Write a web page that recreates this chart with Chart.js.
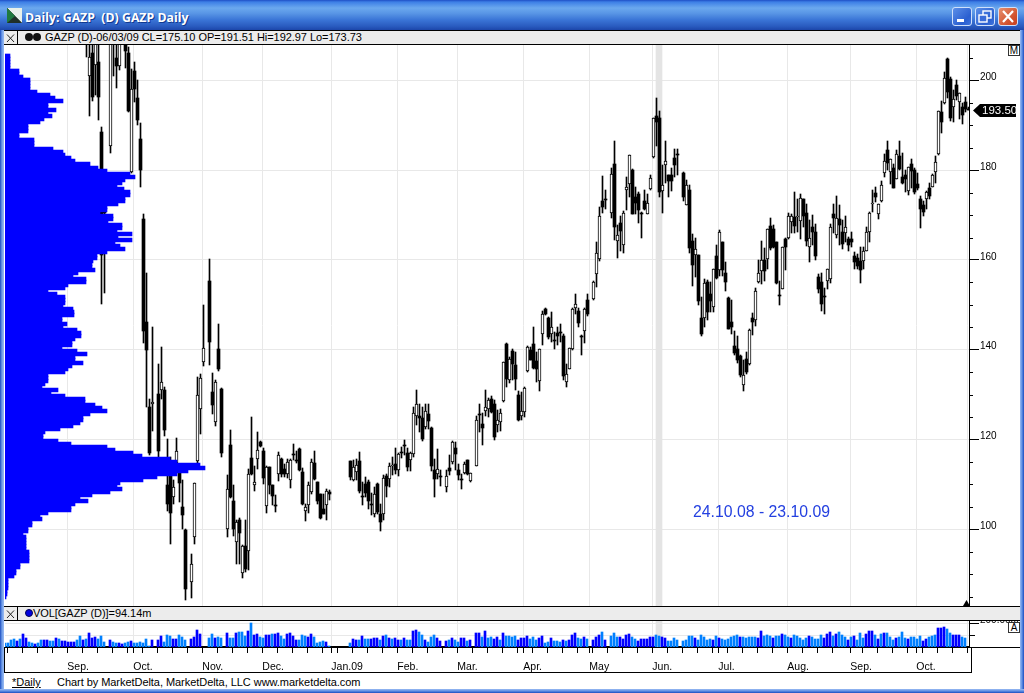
<!DOCTYPE html>
<html><head><meta charset="utf-8">
<script src="https://cdn.jsdelivr.net/npm/chart.js@4/dist/chart.umd.min.js"></script>
<style>
html,body{margin:0;padding:0;background:#fff;overflow:hidden}
#win{position:relative;width:1024px;height:693px;background:#fff;overflow:hidden;font-family:"Liberation Sans",sans-serif;color:#000}
.a{position:absolute;box-sizing:border-box;white-space:pre}
canvas{position:absolute;display:block}
#title{left:0;top:0;width:1024px;height:30px;background:linear-gradient(180deg,#1f4fc6 0,#3d7fe6 2px,#6ba8ee 8px,#5a97e6 13px,#3a74d6 20px,#2a5cc0 26px,#1c46aa 30px)}
#ttext{left:25px;top:9px;font:bold 12.3px "Open Sans",sans-serif;color:#fff;text-shadow:1px 1px 0 #123a90}
.btn{top:7px;width:20px;height:19px;border:1px solid #cfe0fb;border-radius:3px;background:linear-gradient(135deg,#5c8fe8,#2a5fd0 70%,#3f73dc)}
.strip{left:4px;width:1016px;background:#ececec;border-top:1px solid #000;border-bottom:1px solid #000}
.x{left:4px;width:14px;border-right:1px solid #000}
.lab{font-size:11px;line-height:13px;letter-spacing:-.05px}
.dot{border-radius:50%;width:8px;height:8px;background:#111}
.box{width:12px;height:11px;border:1px solid #333;background:#fff;font-size:10px;line-height:10px;text-align:center}
</style></head><body><div id="win">
<div class="a" id="title"></div>
<svg class="a" style="left:7px;top:8px" width="15" height="15"><rect width="15" height="15" fill="#2f4f2f"/><path d="M0 0H15V15Z" fill="#e8f0ea"/><path d="M0 0L15 15H0Z" fill="#20302a"/><path d="M0 0L8 8 0 15Z" fill="#1f7a3f"/></svg>
<div class="a" id="ttext">Daily: GAZP  (D) GAZP Daily</div>
<div class="a btn" style="left:952px"><svg width="18" height="17"><rect x="4" y="11" width="7" height="3" fill="#fff"/></svg></div>
<div class="a btn" style="left:975px"><svg width="18" height="17"><rect x="7" y="3" width="8" height="7" fill="none" stroke="#fff" stroke-width="1.4"/><rect x="3" y="7" width="8" height="7" fill="#3a6cd8" stroke="#fff" stroke-width="1.4"/></svg></div>
<div class="a btn" style="left:998px;background:linear-gradient(135deg,#e8906f,#d0502c 70%,#c8401f)"><svg width="18" height="17"><path d="M4 3L14 14M14 3L4 14" stroke="#fff" stroke-width="2.2"/></svg></div>

<canvas id="priceChart" width="1015" height="561" style="left:5px;top:45px"></canvas>
<canvas id="volChart" width="1015" height="52" style="left:5px;top:620px"></canvas>

<div class="a" style="left:693px;top:502px;font-size:15.8px;line-height:20px;color:#2440e0">24.10.08 - 23.10.09</div>

<div class="a strip" style="top:30px;height:15px"></div>
<div class="a x" style="top:31px;height:13px"><svg width="13" height="13"><path d="M3 2.5L10 10M10 2.5L3 10" stroke="#222" stroke-width="1"/></svg></div>
<div class="a dot" style="left:25px;top:33px"></div><div class="a dot" style="left:33px;top:33px"></div>
<div class="a lab" style="left:45px;top:31px">GAZP (D)-06/03/09 CL=175.10 OP=191.51 Hi=192.97 Lo=173.73</div>
<div class="a box" style="left:1008px;top:45px">M</div>

<svg class="a" style="left:963px;top:600px" width="7" height="6"><path d="M3.5 0L7 6H0Z" fill="#000"/></svg>

<div class="a strip" style="top:606px;height:15px"></div>
<div class="a x" style="top:607px;height:13px"><svg width="13" height="13"><path d="M3 2.5L10 10M10 2.5L3 10" stroke="#222" stroke-width="1"/></svg></div>
<div class="a dot" style="left:25px;top:609px;background:#0000e0;border:1px solid #000050"></div>
<div class="a lab" style="left:33px;top:607px">VOL[GAZP (D)]=94.14m</div>
<div class="a box" style="left:1008px;top:622px;height:11px">A</div>

<div class="a" style="left:4px;top:647px;width:1016px;height:1px;background:#000"></div>
<div class="a" style="left:4px;top:647px;width:968px;height:26px;border:1px solid #000;border-top:0"></div>
<div class="a" style="left:12px;top:675px;font-size:11px;line-height:14px;text-decoration:underline">*Daily</div>
<div class="a" style="left:57px;top:675px;font-size:11px;line-height:14px;letter-spacing:-.05px">Chart by MarketDelta, MarketDelta, LLC www.marketdelta.com</div>

<div class="a" style="left:0;top:30px;width:4px;height:663px;background:linear-gradient(90deg,#1a4cc0,#6f9de8 50%,#9cbcf2)"></div>
<div class="a" style="left:1020px;top:30px;width:4px;height:663px;background:linear-gradient(90deg,#9cbcf2,#5f8fe4 50%,#1a4cc0)"></div>
<div class="a" style="left:0;top:689px;width:1024px;height:4px;background:linear-gradient(180deg,#9cbcf2,#5f8fe4 50%,#1a4cc0)"></div>
</div>
<script>
const N = null;
// Daily candles by bar number; 0-26 lie above the visible price range.
const opens = [N,N,N,N,N,N,N,N,N,N, N,N,N,N,N,N,N,N,N,N, N,N,N,N,N,N,N,214,200.9,206.1,
203.5,204.2,188.5,170.7,N,185.3,211,205,203.3,N,
208.5,206.1,179.7,202.2,196,187,169.1,146.1,127.3,127.9,
N,130.1,131.1,131,109.9,112,107.2,114.8,112.8,105,
99.9,N,88.2,98.3,115.2,126.7,137.3,N,155.3,130.5,
123.9,140.1,131.2,N,100.1,118.7,106.4,97.2,102,90.2,
96.2,95.2,115.9,109.9,115.7,119.4,117.4,105.2,113.9,109.9,
105.4,112.4,115.7,113.5,112.2,111,116.8,115.5,117.8,112.8,
104.1,105.3,108.2,114.8,110.5,107.8,104.4,105.3,108.3,N,
N,N,N,N,N,115.2,110.9,112.8,115.2,107.4,
110,110.6,105.6,103.3,110,103.3,103.3,111.8,111.3,114,
114.6,113.3,117.1,118.7,117,115.4,116.8,125.2,125.2,124.7,
122.8,125.6,122.5,113.1,112.3,111.9,N,109.4,113.7,115,
118,113.1,111.3,112.5,115.5,110.8,N,114.1,125.7,123.5,
126.3,126.9,129,128,123.2,123.9,128.5,141.2,133.2,139.7,
136.6,130,125.3,126.2,135.3,139.9,141.2,137.4,133.1,143.4,
149.1,147,143.6,142.1,143.7,144,143,132.8,135.8,140.1,
149.2,148.6,143.1,144.2,151.1,N,151.2,156.8,160.2,173.1,
173.5,N,170.4,181.3,164.3,168.2,163.3,175.5,176.9,180,
174.1,174.6,170.5,173.1,170.3,175.8,182.9,192,191.6,175.3,
181.2,178.9,178.9,182.7,183.6,N,179.3,172.3,175.6,164.2,
161.2,161,147,147,155,152.4,149.6,160.9,157.8,163.9,
157.2,151.6,146.1,140.9,140.1,138.7,132.2,138,136.9,147,
146.7,155.1,157.5,160.1,160.3,167.6,166.8,163.9,152.2,153.6,
164.6,164.8,168.4,169.5,169.5,168.6,173.5,170.4,163,167.3,
166.2,156.1,155,151.9,155.4,155.7,170.2,165.5,169.1,166.2,
166.1,164.6,164.6,160.9,160.4,159.8,159.8,162,166.2,172.4,
174.9,170.3,173.2,179.3,184.5,179.5,180.4,178,183.1,178.4,
179,175.4,181.3,180.1,176.9,173.5,172.3,173.7,176,176.3,
179.5,183.7,193,194.9,204.8,200.4,194.2,199,195.1,194,
195.2,193.6];
const highs = [N,N,N,N,N,N,N,N,N,N, N,N,N,N,N,N,N,N,N,N, N,N,N,N,N,N,N,216,210,210,
211,210,189.7,171.9,N,211,212,209,210,N,
210,207.5,202.5,204.2,200.1,190.5,170.3,157,129.1,145,
N,136.9,140.5,131.6,120,116.1,110.9,120.4,114.6,110.9,
100.1,N,94.4,110.2,133.9,134.5,149.9,N,160.2,134.9,
133.2,145.8,131.4,N,112,122.1,109.8,102,102.4,96.4,
102,113.5,124.9,114,121.6,119.6,118,114,113.9,109.9,
107.6,117.1,115.9,114.6,115.7,115.6,118.9,117.4,118,113.7,
105.7,110.5,115.7,117.4,110.5,107.9,107.8,109,108.8,N,
N,N,N,N,N,115.2,115.5,115.7,117.1,110.5,
111.7,110.9,108.1,109.4,110.3,105.7,112,112.3,114.8,116.1,
118.2,117,118.3,119.8,118.2,117.1,127.3,131,128,127.3,
128,127.9,122.8,115.7,117.8,113.3,N,113.1,116.5,119.6,
119.5,114.6,112.4,115,115.5,112.6,N,125.2,127.9,125.8,
131,129.3,129.6,128.8,126.5,126.7,137.2,141.6,138.4,140.1,
139.5,130.8,130.6,131.6,140.8,140.6,145,139.5,140.1,148.6,
149.4,147.3,148.5,144,145.1,145.7,143.6,136.9,140.3,149.2,
152.5,149.2,143.3,149.2,152.5,N,155.4,163.9,171.7,178.7,
175.6,N,180.4,186.5,167.8,169.8,171,178.4,183.5,180.2,
176.3,175.2,170.8,175.6,174.7,178.9,191.6,196,193.1,181.2,
186.5,179,180.6,184.7,184.7,N,179.5,177.8,176.6,165.8,
164.8,161,151.8,155.7,155.5,155,158.1,163.3,166.7,163.9,
159.5,151.8,151.1,144.1,143,138.9,137.7,139.5,144.7,148.1,
153.7,160.1,164.2,162.7,166.9,169.3,167.8,164.1,155.3,162.8,
164.8,170.4,170.2,175.1,173.5,174.7,173.7,172.5,168.9,170,
168,156.9,157,153.7,157.9,168,172.5,174.3,172.3,168.9,
169.8,165.2,166.3,161.8,161.3,162.8,163,167.3,170.6,175.6,
176.3,172.4,177.6,183.6,186.6,182.4,181.5,184.5,186.5,183.8,
180.1,180.8,182.5,180.4,179.3,174.3,173.2,175.4,177.1,179.2,
183.2,193.1,195.5,201.8,205,200.7,197.8,200.1,197.2,194.9,
196.3,194.2];
const lows = [N,N,N,N,N,N,N,N,N,N, N,N,N,N,N,N,N,N,N,N, N,N,N,N,N,N,N,205.3,192,195.5,
196.8,191.1,150.3,152.6,N,183.9,200.9,198.3,202.4,N,
202.7,192.9,179.3,195.3,190.1,176.3,141.5,127.3,116.5,121.9,
N,116.1,129.1,120.7,104.1,96.8,105.7,113.5,106.1,100.1,
84.3,N,84.7,96.8,114.5,121.2,136.3,N,136.6,125.6,
122.9,135.3,116.1,N,98.3,107,98.6,92.3,92.3,89.1,
90.5,91,112,108.5,113.5,118.3,110,103.6,107.9,105.3,
103.8,110.8,111.6,111.6,111.5,109.2,115.4,114.8,113,105.3,
101.8,103.6,107.8,110.9,105.7,102.3,103.3,102,106.6,N,
N,N,N,N,N,110.9,110.8,111,108,105.5,
107.2,104.6,103.1,102.7,103.5,99.6,102,107.2,109.4,112,
112.4,111.9,115.9,116.5,113,113,116.1,123.2,121.7,119.7,
122.4,122.4,113,107.2,111.3,109.6,N,108.3,112,114.6,
113.3,110.9,108.9,112.4,112,110.5,N,114.1,121.7,118.7,
125.2,125,125.8,119.8,121.7,121.9,128.4,131.7,132.5,133.2,
131.1,124.1,124.4,125,135.1,137.7,135.7,132.8,130.8,141,
147.7,142.4,141.8,140.1,141,141.8,133.2,131.6,135.6,139.9,
148,145.1,138.8,141.4,147.5,N,151,153.9,159.8,170.4,
171.3,N,169.4,164.4,160.4,162.1,161.5,171.1,174.1,170.2,
170.2,168.3,164.8,171.1,170.2,175.6,182.8,185.3,174,170.5,
177.2,174.1,175.4,178.6,178.9,N,173.2,172.3,161.6,154.3,
156.3,149.9,143.1,145.1,146.6,148.5,148.5,155.7,156.4,156.5,
153.1,144.7,143.5,138.8,137.1,134,130.8,134.7,136.6,143.3,
145.3,154.9,154.6,155.3,158,162.2,162.6,154.6,149.9,153.6,
157.8,164.6,166.1,166.1,166.3,164.7,167.4,163.1,159.6,163.3,
160.1,152.7,148.6,147.9,153.6,154.8,166.1,164.8,163.3,162.4,
164.1,162,162.8,158,158.1,154.9,158,161.9,164.1,170.6,
172.9,169.2,173,178.6,180,176.9,176.1,178,180.1,176.9,
175.2,174.5,176,174.6,175.6,167.2,169.9,171.3,173.7,176.2,
177.2,183.5,188.4,194.7,196.1,190.9,190.7,195.7,191.4,190.3,
192.9,193.4];
const closes = [N,N,N,N,N,N,N,N,N,N, N,N,N,N,N,N,N,N,N,N, N,N,N,N,N,N,N,212,205.2,196.4,
209,196.4,161.1,170.4,N,209,209,203.3,209,N,
206.5,193.3,198.1,198.1,191.2,180.1,144.2,139.9,116.9,128.4,
N,117.5,132.9,122.1,105.7,103.6,109.4,117.5,110.2,103.2,
86.7,N,92.2,110.2,130,133.6,140.3,N,141.8,127.6,
132.9,135.7,116.9,N,109,107.2,100.1,101.5,99.2,96.3,
91.2,112.4,112.2,110.6,117.7,118.6,111.5,113.9,109.8,107.4,
105.2,116.6,112.4,112.2,115,115.4,116.5,115.3,113.1,105.7,
105,109.9,115,111.1,106.4,102.6,103.5,108.5,107.8,N,
N,N,N,N,N,111.7,113.9,114.3,108.5,107.2,
108.1,106.3,105.4,107.9,103.8,101.6,111.5,109.6,114.2,114.3,
113.3,116.7,116.9,118.5,113.9,117,126,127.8,124.7,120,
126.4,124.1,114.1,111.2,113.5,111.7,N,111.9,112.9,119.5,
116.7,112,111.1,114.6,112.4,112.6,N,124.4,125.5,122.6,
127.3,128.7,126.2,120.6,124.4,126,137.2,133.4,137.9,136.9,
133.5,124.3,126.4,131.4,140.6,137.8,136,135.6,140.1,147.9,
147.9,142.9,145,141.9,143.1,143.8,134.1,134.5,140.3,149,
150.1,145.9,143,149,147.9,N,155,161.5,169.9,171.9,
173.3,N,179.1,167.4,165.6,166.5,170.4,176.2,183.4,170.2,
172.6,171.1,170.4,171.4,172.6,178.3,191.6,190.8,175.2,176.6,
182,177.5,177.5,181.2,183.4,N,174.1,176.6,162.6,158.9,
162.5,150.9,143.5,154.8,148.5,150.9,158,156,166.2,157.8,
155,144.7,145.1,139.3,137.8,134.3,134.3,135,144.4,146.2,
153,157,160.1,157.6,166.8,162.6,163,154.8,152.1,162.8,
162.8,169.7,169.9,167.6,169.7,173.9,169.9,164.3,164.8,166.3,
160.9,153.6,150.2,151.7,157.9,167.3,169.4,169.3,167.9,163.6,
167.3,163.4,163.9,159.6,158.7,157.8,161.9,166.2,170.5,172.8,
174.1,172.4,176.7,182,181.7,182.4,176.1,183.6,180.3,177.2,
178.1,180.7,179.8,175.2,176,171.3,170.8,175.1,174.3,178.9,
181.8,193.1,190.8,200.5,197.5,191.7,195.8,196.6,197.2,192.4,
193.7,193.5];
const lastPrice = 193.5;
const priceTicks = [85,90,95,100,105,110,115,120,125,130,135,140,145,150,155,160,165,170,175,180,185,190,195,200,205];

// Volume profile: traded amount per price level.
const profileLevels = [205.40,204.73,204.06,203.39,202.72,202.05,201.38,200.71,200.04,199.37,
198.70,198.03,197.36,196.69,196.02,195.35,194.68,194.01,193.34,192.67,
192.00,191.33,190.66,189.99,189.32,188.65,187.98,187.31,186.64,185.97,
185.30,184.63,183.96,183.29,182.62,181.95,181.28,180.61,179.94,179.27,
178.60,177.93,177.26,176.59,175.92,175.25,174.58,173.91,173.24,172.57,
171.90,171.23,170.56,169.89,169.22,168.55,167.88,167.21,166.54,165.87,
165.20,164.53,163.86,163.19,162.52,161.85,161.18,160.51,159.84,159.17,
158.50,157.83,157.16,156.49,155.82,155.15,154.48,153.81,153.14,152.47,
151.80,151.13,150.46,149.79,149.12,148.45,147.78,147.11,146.44,145.77,
145.10,144.43,143.76,143.09,142.42,141.75,141.08,140.41,139.74,139.07,
138.40,137.73,137.06,136.39,135.72,135.05,134.38,133.71,133.04,132.37,
131.70,131.03,130.36,129.69,129.02,128.35,127.68,127.01,126.34,125.67,
125.00,124.33,123.66,122.99,122.32,121.65,120.98,120.31,119.64,118.97,
118.30,117.63,116.96,116.29,115.62,114.95,114.28,113.61,112.94,112.27,
111.60,110.93,110.26,109.59,108.92,108.25,107.58,106.91,106.24,105.57,
104.90,104.23,103.56,102.89,102.22,101.55,100.88,100.21,99.54,98.87,
98.20,97.53,96.86,96.19,95.52,94.85,94.18,93.51,92.84,92.17,
91.50,90.83,90.16,89.49,88.82,88.15,87.48,86.81,86.14,85.47,84.80];
const profileVolume = [5,5,5,5,5,14,14,18,25,25,
25,25,32,45,50,58,43,43,51,43,
47,39,35,23,23,23,14,14,29,29,
29,48,58,60,66,70,85,93,102,125,
130,120,117,112,119,125,125,120,120,113,
102,102,95,108,108,103,117,117,112,127,
113,127,110,115,120,102,92,92,88,87,
87,90,73,68,81,81,63,60,43,52,
60,60,60,58,68,69,69,57,57,62,
58,72,76,76,70,67,67,57,72,82,
70,70,78,67,63,60,43,43,43,40,
37,53,46,60,80,80,90,97,102,85,
78,78,75,68,55,40,38,38,53,66,
102,110,128,137,165,172,195,200,183,172,
152,138,115,112,117,105,87,75,83,70,
66,66,43,35,37,27,27,23,23,18,
21,21,21,21,21,24,24,24,24,15,
15,11,11,9,3,3,3,3,2,2,1];

// Daily volume in millions (down-day flag picks the colour).
const volumes = [33,33,61,67,53,67,111,75,42,33,
28,33,58,58,58,50,50,75,67,50,
50,42,42,42,58,92,58,67,117,75,
83,67,92,42,0,58,42,36,33,28,
33,42,50,33,33,42,33,67,8,58,
0,58,92,42,100,92,67,67,100,83,
58,0,67,83,142,108,0,0,75,108,
75,83,75,0,117,75,75,117,125,125,
92,133,200,100,108,83,75,100,100,108,
108,117,92,67,108,117,92,58,58,100,
92,83,108,83,33,42,50,42,8,0,
0,0,0,0,0,33,67,58,58,92,
67,67,67,75,75,58,92,100,75,67,
75,58,58,75,58,58,133,142,125,100,
58,42,83,100,75,50,0,50,58,75,
58,42,75,75,50,58,0,117,117,83,
133,75,83,67,83,58,117,92,92,83,
92,58,75,75,92,67,83,58,75,92,
33,42,75,50,50,42,58,50,58,100,
117,75,67,83,67,0,58,83,100,125,
58,0,92,117,83,83,67,100,108,83,
67,50,67,67,67,83,83,100,92,83,
75,50,50,75,58,0,50,58,92,92,
75,58,100,83,58,67,58,92,75,67,
58,67,83,92,100,83,83,75,83,83,
83,75,133,92,100,92,75,92,92,108,
100,83,75,100,92,75,58,75,92,83,
67,67,100,75,108,125,92,108,125,100,
83,58,83,92,58,117,75,108,133,133,
100,67,108,117,117,83,58,75,83,125,
75,67,83,83,67,92,50,67,83,92,
100,158,158,167,150,117,100,100,100,83,75];
const volumeDown = [0,0,0,0,1,0,1,1,0,0,
1,0,0,1,1,0,0,1,0,1,
1,1,1,1,0,0,1,0,1,1,
1,0,0,0,0,1,0,0,1,1,
0,0,1,0,0,0,0,0,0,1,
0,1,1,0,0,0,1,1,0,0,
0,0,1,1,1,1,0,0,0,0,
1,0,0,0,1,0,0,1,0,0,
0,1,0,1,1,0,0,1,1,0,
1,1,0,0,1,1,1,1,0,0,
0,1,1,0,0,0,0,1,0,0,
0,0,0,0,0,0,1,1,0,1,
0,0,1,1,1,0,1,0,1,0,
1,1,0,1,0,0,1,1,0,0,
1,0,0,0,1,1,0,1,0,1,
0,0,1,1,0,1,0,1,1,0,
1,0,0,1,1,0,1,0,0,0,
0,1,1,1,1,0,0,0,1,1,
0,0,1,0,0,0,1,0,1,1,
1,0,0,1,0,0,1,1,1,0,
1,0,0,0,0,1,1,1,1,0,
0,1,1,1,1,1,1,0,0,1,
1,0,0,0,0,0,0,0,0,0,
1,0,0,0,0,0,1,0,1,0,
0,0,0,0,0,1,0,0,0,0,
0,1,1,0,0,0,1,0,0,1,
0,0,1,0,0,0,0,0,1,0,
0,0,0,1,1,1,0,1,0,0,
0,1,0,1,0,0,0,1,1,1,
0,1,0,1,0,0,0,1,0,0,
0,1,0,0,0,0,1,1,0,0,
0,1,1,1,0,0,1,1,1,0,0];
const volumeAxisTicks = [100,200];
const volumeAxisLabels = {200:'200.000m'};

// Time axis: bar numbers of month starts and of weekly ticks.
const monthBars = [21,43,66,86,109,131,151,173,195,216,238,261,282,304,321];
const monthLabels = ['Sep.','Oct.','Nov.','Dec.','Jan.09','Feb.','Mar.','Apr.','May','Jun.','Jul.','Aug.','Sep.','Oct.',''];
const weekBars = [1,6,11,16,26,31,36,41,46,51,56,61,71,76,81,91,96,101,106,111,116,121,126,136,141,146,156,161,166,171,176,181,186,191,196,201,206,211,221,226,231,236,241,246,251,256,266,271,276,286,291,296,301,306,311,316];
const cursorBar = 218;

const indices = opens.map((_, i) => i);
const has = i => opens[i] !== null;
const GRID = '#e8e8e8', CLEAR = 'rgba(0,0,0,0)';
const GRID_SHIFT = -0.4;      // gridline sits a little left of its bar on the price pane
const BAR_MIN = -1/6, BAR_MAX = 964/3 - 1/6;
const val = c => (c && c.tick ? c.tick.value : NaN);
const noPad = s => { s.paddingLeft=0; s.paddingRight=0; s.paddingTop=0; s.paddingBottom=0; };
const AXIS_FONT = {family:'"Liberation Sans"',size:10};

// keep marks on whole pixels, as the original platform does
const crisp = {id:'crisp', afterDatasetsUpdate(chart){
  chart.getSortedVisibleDatasetMetas().forEach(m=>{
    m.data.forEach(el=>{
      if(m.indexAxis==='y'){ el.y=Math.round(el.y); el.x=Math.round(el.x); el.base=Math.round(el.base);}
      else { el.y=Math.round(el.y); el.base=Math.round(el.base); if(el.y===el.base) el.base=el.y+1; }
    });
  });
}};
const shortTicks = len => ({id:'shortTicks', afterDraw(chart){
  const s=chart.scales.y, c=chart.ctx; c.save(); c.fillStyle='#000';
  s.ticks.forEach(t=>{ if(!t.label){ c.fillRect(Math.round(s.left), Math.round(s.getPixelForValue(t.value)), len, 1);} });
  c.restore();
}});
const priceTag = {id:'priceTag', afterDraw(chart){
  const s=chart.scales.y, c=chart.ctx, y=Math.round(s.getPixelForValue(lastPrice))+0.5, x=s.left;
  c.save(); c.fillStyle='#000'; c.beginPath();
  c.moveTo(x+4,y); c.lineTo(x+11,y-6.5); c.lineTo(x+47,y-6.5); c.lineTo(x+47,y+6.5); c.lineTo(x+11,y+6.5); c.closePath(); c.fill();
  c.fillStyle='#fff'; c.font='11.5px "Liberation Sans"'; c.textBaseline='middle'; c.textAlign='left';
  c.fillText(lastPrice.toFixed(2), x+13, y+0.5); c.restore();
}};

new Chart(document.getElementById('priceChart'),{
  type:'bar',
  data:{datasets:[
    {label:'cursor',order:6,backgroundColor:'#e4e4e4',barThickness:6,data:[{x:cursorBar-1/6,y:[80,210]}]},
    {label:'range',order:5,backgroundColor:'#000',barThickness:1,
      data:indices.filter(has).map(i=>({x:i,y:[lows[i],highs[i]]}))},
    {label:'down',order:4,backgroundColor:'#000',barThickness:3,
      data:indices.filter(i=>has(i)&&closes[i]<opens[i]).map(i=>({x:i,y:[closes[i],opens[i]]}))},
    {label:'up',order:3,backgroundColor:'#fff',borderColor:'#000',borderWidth:1,borderSkipped:false,barThickness:3,
      data:indices.filter(i=>has(i)&&closes[i]>=opens[i]).map(i=>({x:i,y:[opens[i],closes[i]]}))},
    {label:'profile',order:1,indexAxis:'y',xAxisID:'xp',yAxisID:'y',backgroundColor:'#0000ff',barThickness:4,
      data:profileLevels.map((p,k)=>({x:profileVolume[k],y:p}))}
  ]},
  options:{
    responsive:false,animation:false,events:[],devicePixelRatio:1,
    layout:{padding:0},
    datasets:{bar:{grouped:false}},
    plugins:{legend:{display:false},tooltip:{enabled:false},title:{display:false}},
    scales:{
      x:{type:'linear',min:BAR_MIN,max:BAR_MAX,offset:false,
        afterBuildTicks:s=>{s.ticks=monthBars.map(b=>({value:b+GRID_SHIFT}));},
        afterFit:s=>{s.height=0;noPad(s);},
        grid:{color:GRID,drawTicks:false,offset:false},border:{display:false},ticks:{display:false}},
      xp:{type:'linear',display:false,min:0,max:964,offset:false,grid:{offset:false}},
      y:{type:'linear',position:'right',min:82.89,max:207.91,offset:false,
        afterBuildTicks:s=>{s.ticks=priceTicks.map(v=>({value:v}));},
        afterFit:s=>{s.width=51;noPad(s);},
        border:{color:'#000',width:1},
        grid:{offset:false,color:c=>val(c)%20===0?GRID:CLEAR,
              tickColor:c=>val(c)%20===0?'#000':CLEAR,tickLength:10},
        ticks:{autoSkip:false,align:'end',padding:1,labelOffset:2,color:'#000',font:AXIS_FONT,
          callback:v=>v%20===0?String(v):''}}
    }
  },
  plugins:[crisp,shortTicks(4),priceTag]
});

new Chart(document.getElementById('volChart'),{
  type:'bar',
  data:{datasets:[
    {label:'cursor',order:3,backgroundColor:'#e4e4e4',barThickness:6,data:[{x:cursorBar,y:[0,225]}]},
    {label:'volume up',order:2,backgroundColor:'#0080ff',barThickness:2,
      data:volumes.map((v,i)=>({x:i,y:v,d:volumeDown[i]})).filter(p=>!p.d&&p.y>0)},
    {label:'volume down',order:1,backgroundColor:'#0000ff',barThickness:2,
      data:volumes.map((v,i)=>({x:i,y:v,d:volumeDown[i]})).filter(p=>p.d&&p.y>0)}
  ]},
  options:{
    responsive:false,animation:false,events:[],devicePixelRatio:1,
    layout:{padding:0},
    datasets:{bar:{grouped:false}},
    plugins:{legend:{display:false},tooltip:{enabled:false},title:{display:false}},
    scales:{
      x:{type:'linear',min:0,max:964/3,offset:false,
        afterBuildTicks:s=>{
          const m=monthBars.map(b=>({value:b-0.23}));
          const w=weekBars.map(b=>({value:b-0.23}));
          s.ticks=[...m,...w].sort((a,b)=>a.value-b.value);
        },
        afterFit:s=>{s.height=25;noPad(s);},
        border:{color:'#000',width:2},
        grid:{offset:false,color:c=>monthBars.includes(Math.round(val(c)+0.23))?GRID:CLEAR,tickColor:'#000',tickLength:6},
        ticks:{autoSkip:false,maxRotation:0,minRotation:0,align:'start',padding:8,color:'#000',
          font:{family:'"Liberation Sans"',size:10.5},
          callback:(v)=>{const k=monthBars.indexOf(Math.round(v+0.23));return k>=0?monthLabels[k]:'';}}},
      y:{type:'linear',position:'right',min:0,max:225,
        afterBuildTicks:s=>{s.ticks=volumeAxisTicks.map(v=>({value:v}));},
        afterFit:s=>{s.width=51;noPad(s);},
        border:{color:'#000',width:1},
        grid:{color:GRID,tickColor:c=>val(c)===200?'#000':CLEAR,tickLength:10},
        ticks:{autoSkip:false,align:'end',padding:1,labelOffset:2,color:'#000',font:AXIS_FONT,
          callback:v=>volumeAxisLabels[v]||''}}
    }
  },
  plugins:[crisp,shortTicks(6)]
});
</script></body></html>
